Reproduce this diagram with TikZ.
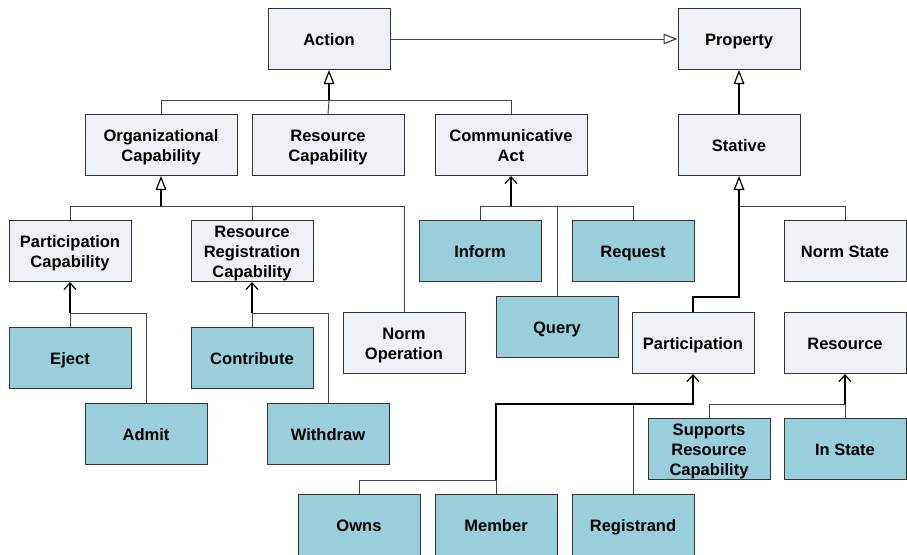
\documentclass[tikz,border=0pt]{standalone}
\usepackage{fontspec}
\setmainfont{Liberation Sans}
\usetikzlibrary{arrows.meta}

\definecolor{lightbox}{HTML}{EEF1F6}
\definecolor{tealbox}{HTML}{98CFDB}
\definecolor{boxline}{HTML}{333333}
\definecolor{linegray}{HTML}{444444}

\begin{document}
\begin{tikzpicture}
    [
      x=0.75pt, y=-0.75pt,
      every node/.style={black, font=\bfseries\fontsize{12.4}{15}\selectfont, text height=9.3pt, text depth=0pt},
      twoline/.style={text height=24.3pt},
      threeline/.style={text height=39.3pt},
      box/.style={draw=boxline, line width=0.75pt, minimum width=91.5pt, minimum height=45.75pt, inner sep=0pt, align=center},
      wide/.style={minimum width=114pt},
      abstract/.style={box, fill=lightbox},
      concrete/.style={box, fill=tealbox},
      link/.style={draw=linegray, line width=0.7pt},
      stem/.style={draw=black, line width=0.85pt},
      gen/.style={-{Triangle[open, length=10.5pt, width=8pt, line width=0.9pt]}},
      dep/.style={-{Straight Barb[length=5pt, width=9pt, line width=0.9pt]}},
    ]

    \useasboundingbox (0,0) rectangle (907,554);

    % classes
    \node [abstract] (action) at (329,39) {Action};
    \node [abstract] (property) at (739,39) {Property};
    \node [abstract, wide, twoline] (orgcap) at (161,145) {Organizational\\Capability};
    \node [abstract, wide, twoline] (rescap) at (328,145) {Resource\\Capability};
    \node [abstract, wide, twoline] (commact) at (511,145) {Communicative\\Act};
    \node [abstract] (stative) at (739,145) {Stative};
    \node [abstract, twoline] (partcap) at (70,251) {Participation\\Capability};
    \node [abstract, threeline] (regcap) at (252,251) {Resource\\Registration\\Capability};
    \node [concrete] (inform) at (480,251) {Inform};
    \node [concrete] (request) at (633,251) {Request};
    \node [abstract] (normstate) at (845,251) {Norm State};
    \node [concrete] (query) at (557,327) {Query};
    \node [abstract, twoline] (normop) at (404,343) {Norm\\Operation};
    \node [abstract] (participation) at (693,343) {Participation};
    \node [abstract] (resource) at (845,343) {Resource};
    \node [concrete] (eject) at (70,358) {Eject};
    \node [concrete] (contribute) at (252,358) {Contribute};
    \node [concrete] (admit) at (146,434) {Admit};
    \node [concrete] (withdraw) at (328,434) {Withdraw};
    \node [concrete, threeline] (supports) at (709,449) {Supports\\Resource\\Capability};
    \node [concrete] (instate) at (845,449) {In State};
    \node [concrete] (owns) at (359,525) {Owns};
    \node [concrete] (member) at (496,525) {Member};
    \node [concrete] (registrand) at (633,525) {Registrand};

    % junctions
    \coordinate (jact) at (329,100);
    \coordinate (jorg) at (161,206);
    \coordinate (jcomm) at (511,206);
    \coordinate (jstat) at (739,206);
    \coordinate (jbend) at (739,297);
    \coordinate (jpcap) at (70,313);
    \coordinate (jrcap) at (252,313);
    \coordinate (jpart) at (693,404);
    \coordinate (jown) at (496,480);
    \coordinate (jres) at (845,404);

    \draw [link, gen] (action) -- (property);
    \draw [stem, gen] (stative) -- (property);

    \draw [link] (orgcap.north) |- (jact);
    \draw [link] (rescap.north) -- (jact);
    \draw [link] (commact.north) |- (jact);
    \draw [stem, gen] (jact) -- (action.south);

    \draw [link] (partcap.north) |- (jorg);
    \draw [link] (regcap.north) |- (jorg);
    \draw [link] (normop.north) |- (jorg);
    \draw [stem, gen] (jorg) -- (orgcap.south);

    \draw [link] (inform.north) |- (jcomm);
    \draw [link] (request.north) |- (jcomm);
    \draw [link] (query.north) |- (jcomm);
    \draw [stem, dep] (jcomm) -- (commact.south);

    \draw [link] (normstate.north) |- (jstat);
    \draw [stem] (participation.north) |- (jbend) -- (jstat);
    \draw [stem, gen] (jstat) -- (stative.south);

    \draw [link] (eject.north) -- (jpcap);
    \draw [link] (admit.north) |- (jpcap);
    \draw [stem, dep] (jpcap) -- (partcap.south);

    \draw [link] (contribute.north) -- (jrcap);
    \draw [link] (withdraw.north) |- (jrcap);
    \draw [stem, dep] (jrcap) -- (regcap.south);

    \draw [link] (owns.north) |- (jown);
    \draw [link] (member.north) -- (jown);
    \draw [link] (registrand.north) |- (jpart);
    \draw [stem, dep] (jown) |- (jpart) -- (participation.south);

    \draw [link] (supports.north) |- (jres);
    \draw [link] (instate.north) -- (jres);
    \draw [stem, dep] (jres) -- (resource.south);
\end{tikzpicture}
\end{document}
